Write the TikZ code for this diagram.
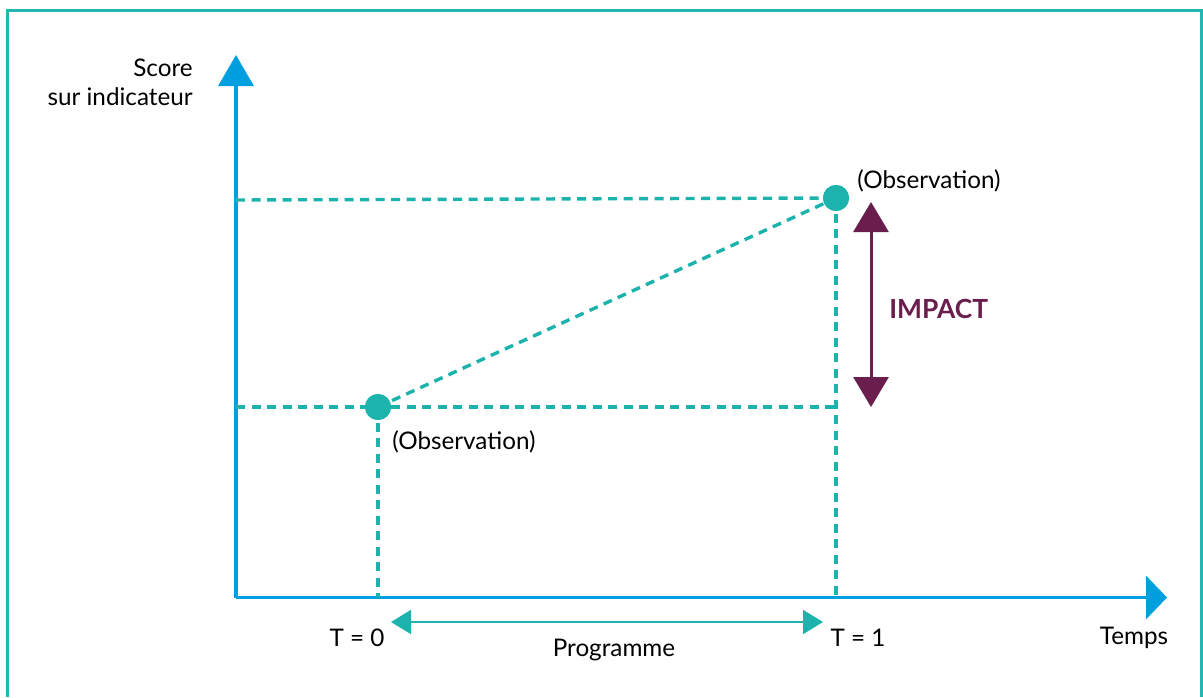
\documentclass[tikz,border=0pt]{standalone}
\usepackage{fontspec}
\setmainfont{Lato}
\usetikzlibrary{arrows.meta}
\definecolor{frameteal}{HTML}{22B6B1}
\definecolor{axisblue}{HTML}{009FE0}
\definecolor{obsteal}{HTML}{1CB3AD}
\definecolor{impactpurple}{HTML}{6A1E4E}

\begin{document}
\begin{tikzpicture}[x=0.02cm,y=-0.02cm,font=\fontsize{13.8}{16.5}\selectfont]
  \tikzstyle{axis}=[draw=axisblue,line width=3.6*0.02cm]
  \tikzstyle{guide}=[draw=obsteal,line width=3.4*0.02cm,dash pattern=on 9*0.02cm off 6.5*0.02cm]
  \tikzstyle{obs}=[circle,fill=obsteal,minimum size=26*0.02cm,inner sep=0pt]
  \tikzstyle{label}=[inner sep=0pt,text=black]

  \useasboundingbox (0,0) rectangle (1203,697);
  \draw[frameteal,line width=2.5*0.02cm] (7.5,697) -- (7.5,10.5) -- (1201.5,10.5) -- (1201.5,697);

  % axes
  \coordinate (origin) at (236,597.5);
  \coordinate (ytop) at (236,55);
  \coordinate (xend) at (1167,597.5);
  \draw[axis,-{Triangle[length=31*0.02cm,width=35*0.02cm]}] (origin) -- (ytop);
  \draw[axis,-{Triangle[length=21*0.02cm,width=43*0.02cm]}] (origin) -- (xend);

  % observations
  \node[obs] (obs0) at (378,407) {};
  \node[obs] (obs1) at (836,198) {};

  \foreach \name/\x/\y in {y0/236/407, r0/836/407, y1/236/200, t0/378/597, t1/836/597}
    \coordinate (\name) at (\x,\y);

  \foreach \from/\to in {y0/r0, y1/obs1.center, obs0.center/t0, obs1.center/t1, obs0.center/obs1.center}
    \draw[guide] (\from) -- (\to);
  \node[obs] at (obs0) {};
  \node[obs] at (obs1) {};

  % impact
  \coordinate (imptop) at (871,202);
  \coordinate (impbot) at (871,407);
  \draw[impactpurple,line width=3*0.02cm,{Triangle[length=30*0.02cm,width=35*0.02cm]}-{Triangle[length=30*0.02cm,width=35*0.02cm]}] (imptop) -- (impbot);
  \node[label,anchor=west,text=impactpurple,font=\fontsize{15}{18}\selectfont\bfseries] (impact) at (889,309) {IMPACT};

  % programme
  \coordinate (progstart) at (391,622);
  \coordinate (progend) at (823,622);
  \draw[obsteal,line width=2*0.02cm,{Triangle[length=20*0.02cm,width=24*0.02cm]}-{Triangle[length=20*0.02cm,width=24*0.02cm]}] (progstart) -- (progend);

  % texts
  \node[label,anchor=east,align=right] (yname) at (193,82) {Score\\[0pt]sur indicateur};
  \node[label,anchor=west] (obs0text) at (392,442) {(Observation)};
  \node[label,anchor=west] (obs1text) at (857,181) {(Observation)};
  \node[label] (tzero) at (357,638) {T = 0};
  \node[label] (tone) at (858,638) {T = 1};
  \node[label] (xname) at (1134,638) {Temps};
  \node[label] (prog) at (614,650) {Programme};
\end{tikzpicture}
\end{document}
